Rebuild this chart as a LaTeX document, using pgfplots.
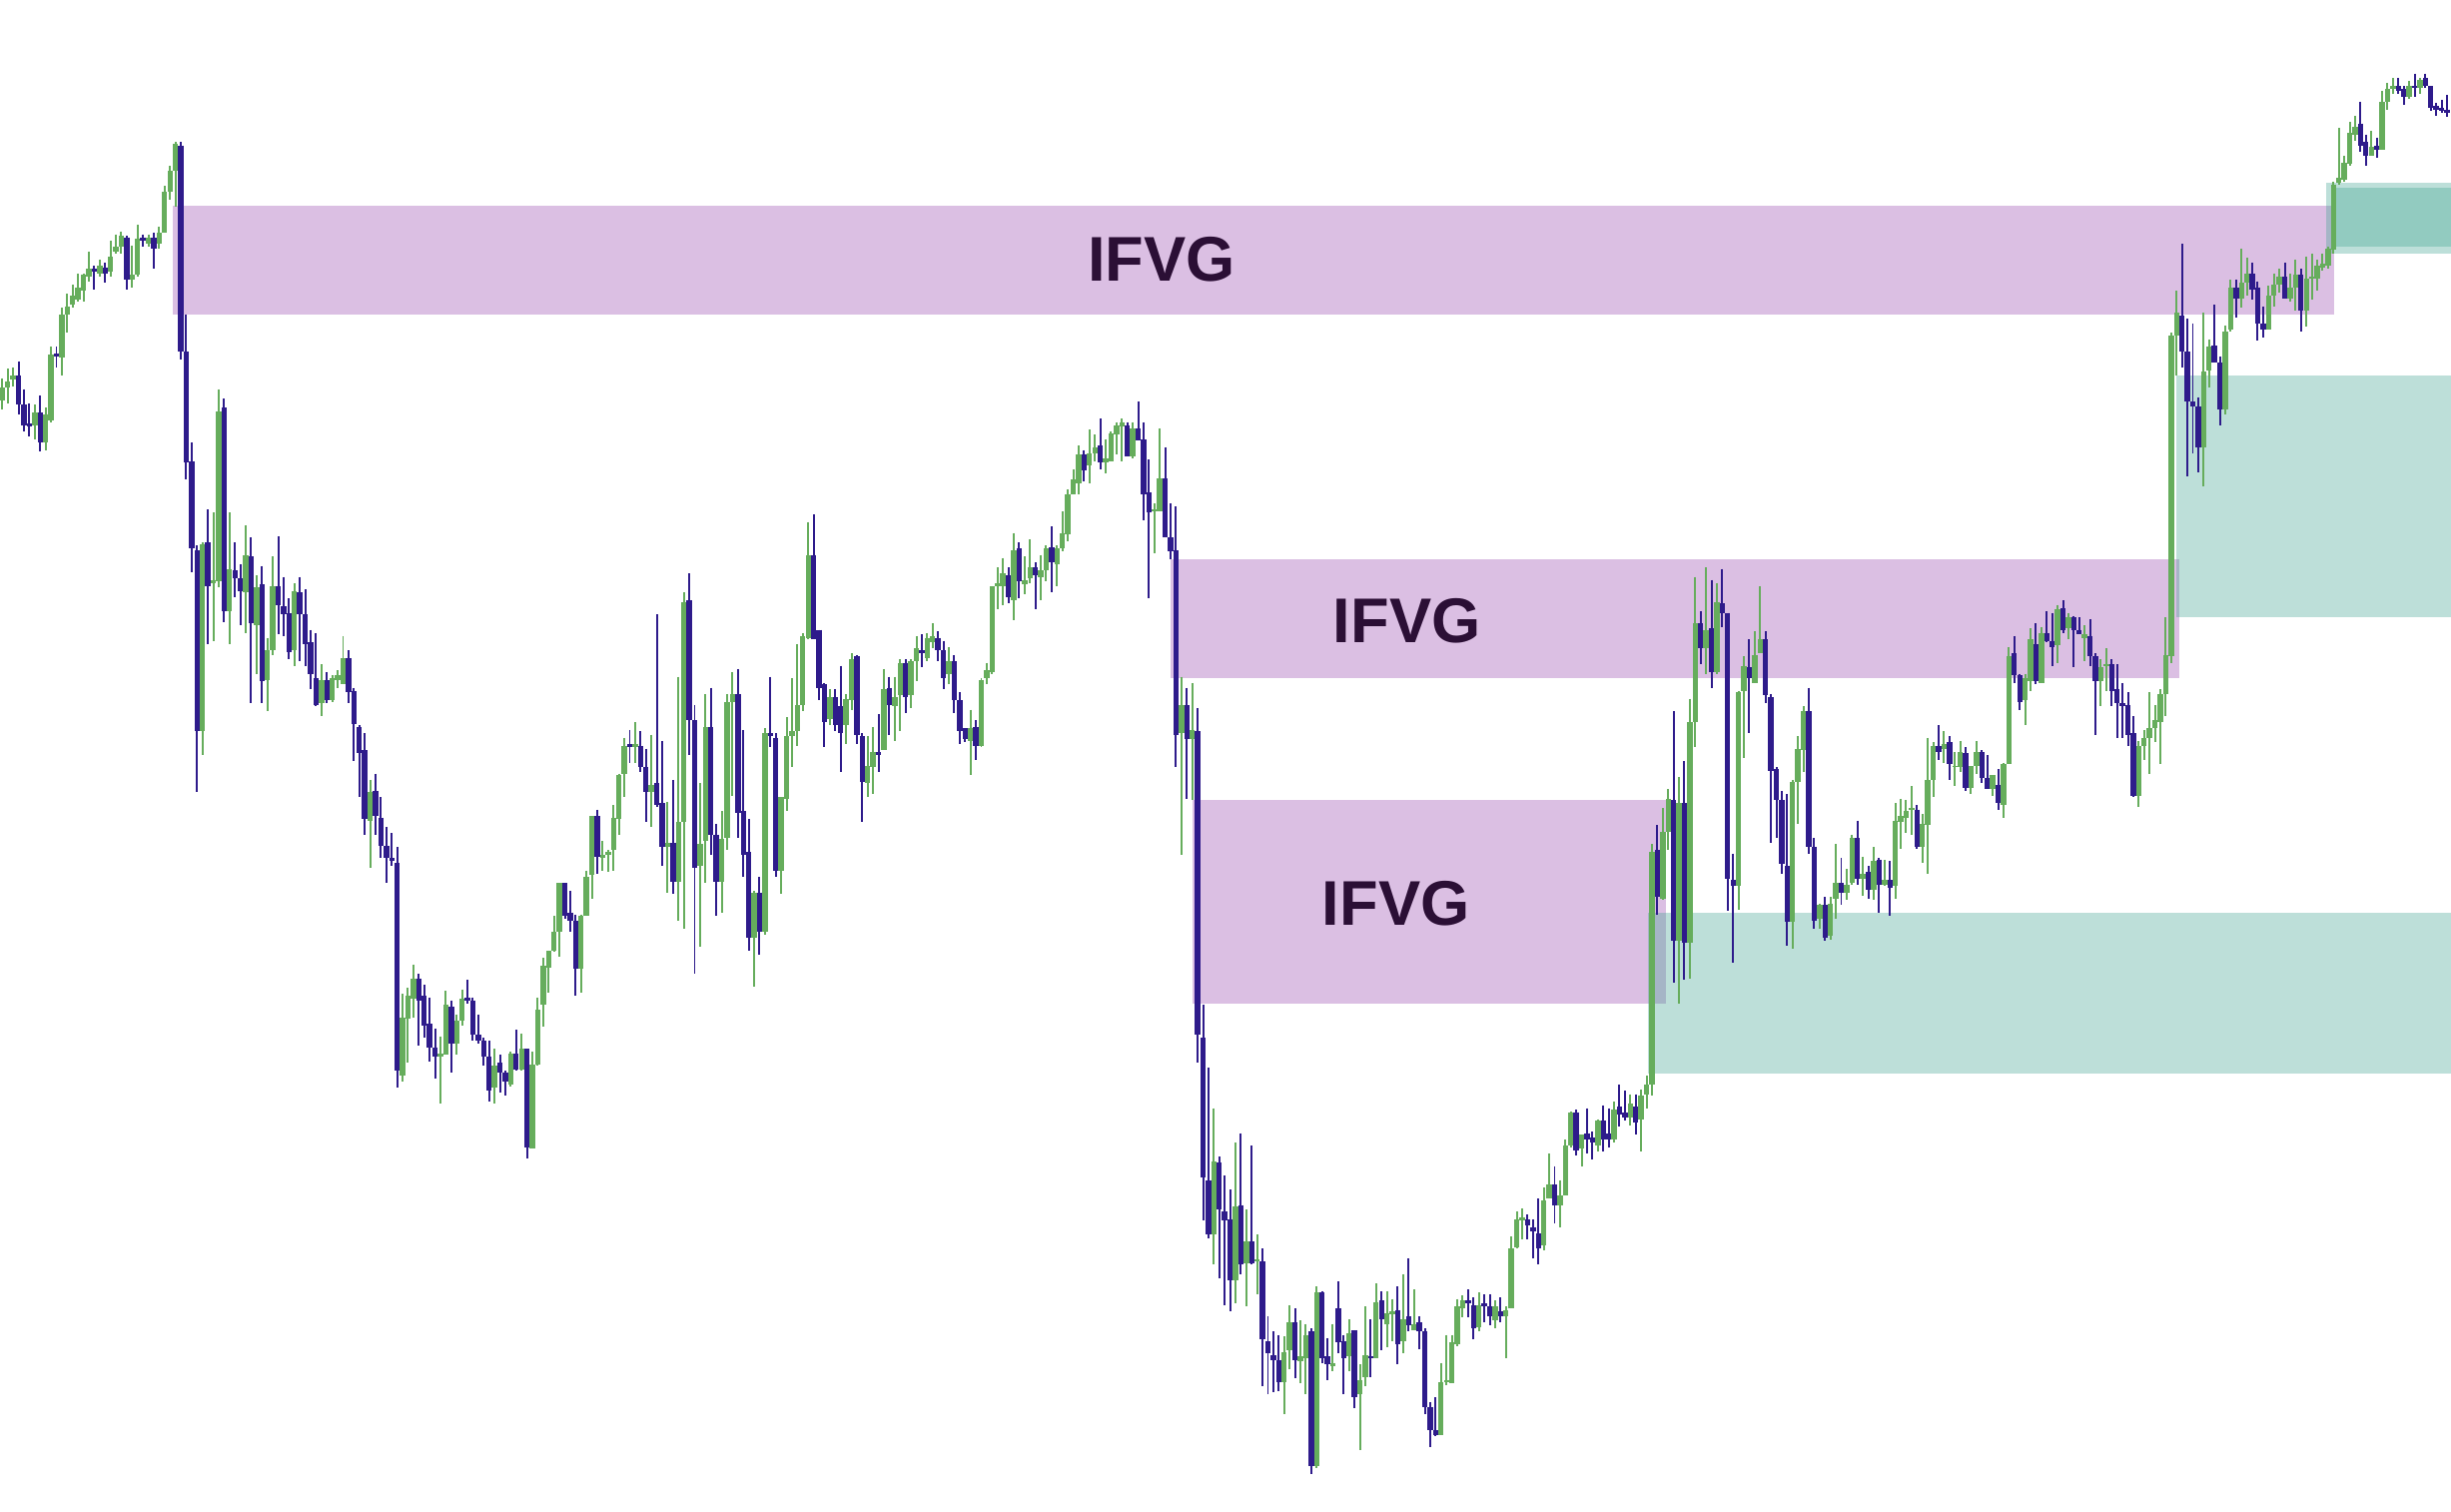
\documentclass[border=0pt]{standalone}
\usepackage{pgfplots}
\pgfplotsset{compat=1.18}
\usepackage{pgfplotstable}
\usepackage{fontspec}
\setmainfont{Liberation Sans}

\definecolor{upc}{RGB}{102,173,92}
\definecolor{dnc}{RGB}{46,27,139}
\definecolor{ifvg}{RGB}{219,191,227}
\definecolor{fvg}{RGB}{66,164,146}
\definecolor{lbl}{RGB}{43,15,53}

% candles in picture pixels (y grows downwards): open close top bottom
\pgfplotstableread{
o c t b
256 248 242 262
248 244 236 258
243 240 235 247
240 259 231 265
259 272 249 276
271 273 258 279
272 264 259 281
264 283 253 289
283 265 261 288
269 227 222 270
226 228 222 235
229 201 197 240
201 196 188 213
195 189 182 197
192 184 175 193
186 176 175 193
177 172 161 180
172 174 170 185
175 170 166 177
171 175 168 181
174 164 154 177
161 158 150 162
158 151 148 162
152 179 151 185
179 176 157 184
176 153 144 177
152 154 150 158
156 152 150 158
152 159 149 172
156 149 145 159
149 123 119 149
123 109 106 128
109 92 91 132
93 225 91 230
225 296 201 307
295 351 283 366
352 468 349 507
468 348 347 483
347 375 326 412
373 371 328 410
372 263 249 376
261 391 255 398
391 364 328 412
365 370 347 382
370 378 361 400
379 355 336 405
356 399 344 450
400 376 368 431
374 436 362 450
435 416 408 455
416 375 356 419
375 387 343 406
388 393 369 407
392 417 383 422
416 378 373 426
379 393 369 423
393 412 377 426
411 431 403 441
434 451 405 452
450 435 425 458
435 448 430 450
448 434 432 449
435 432 429 440
438 421 407 438
421 443 416 450
442 463 440 487
465 482 464 510
480 524 469 534
525 507 499 555
506 522 495 534
523 541 510 549
541 549 529 565
549 551 533 554
552 685 542 696
688 651 636 692
652 637 632 680
639 626 617 651
626 640 623 669
637 656 630 664
655 670 638 679
670 676 658 690
676 674 663 706
675 643 634 675
644 668 640 686
668 653 649 675
653 639 633 656
638 640 627 642
640 662 638 666
662 666 649 668
666 676 664 682
676 698 666 705
696 682 671 706
680 686 675 699
686 692 685 701
694 674 673 695
674 684 659 685
684 671 661 685
671 734 671 741
735 681 673 735
681 646 638 682
643 618 613 657
619 608 608 635
608 596 586 609
596 565 565 612
565 586 565 588
584 589 570 596
589 620 585 637
620 586 585 635
586 561 557 586
560 522 522 575
522 548 518 559
549 547 538 557
547 545 544 558
544 523 515 557
524 496 495 534
495 477 472 510
476 478 467 488
478 476 462 488
477 491 468 494
491 507 479 526
507 502 470 529
501 515 393 516
514 542 474 554
542 539 513 571
539 564 499 572
564 526 433 589
526 385 379 594
384 461 367 483
461 555 451 623
554 540 501 606
538 465 444 565
465 534 440 547
534 564 527 586
564 537 519 584
536 449 444 544
449 444 430 509
444 520 428 536
519 547 467 561
545 600 524 608
600 571 570 631
571 596 561 611
596 469 466 598
469 471 433 478
472 557 469 561
557 510 510 572
511 471 459 519
471 468 434 491
468 451 412 477
451 407 405 455
408 355 334 409
355 409 329 409
403 440 403 448
438 462 437 478
460 446 441 464
446 464 441 468
452 469 426 494
464 447 444 476
448 422 418 454
420 470 419 476
471 500 469 526
501 490 471 510
491 481 465 508
481 483 457 494
480 441 428 480
440 451 433 470
452 446 433 474
445 424 422 468
424 446 422 456
445 423 422 453
423 415 407 436
416 418 406 427
421 408 405 423
411 407 399 415
408 416 404 423
416 434 410 441
431 423 414 438
423 448 419 456
448 468 443 476
466 473 466 475
474 466 454 496
465 477 461 486
477 435 434 478
434 429 424 438
430 375 375 431
375 373 363 390
375 367 357 387
368 382 363 386
384 352 341 397
351 372 347 383
374 371 356 380
370 363 345 373
363 368 360 390
369 365 355 384
365 351 349 372
350 360 337 379
361 351 349 375
351 341 327 353
342 316 313 346
316 307 300 316
309 291 285 316
291 301 288 308
298 290 275 309
290 286 278 295
285 296 268 300
296 293 281 303
295 277 276 295
278 272 270 291
273 270 268 295
272 292 270 292
292 274 270 293
274 282 257 282
281 316 270 333
315 328 294 383
327 326 322 354
327 306 274 327
306 344 286 344
344 353 322 358
352 470 324 491
469 451 433 547
451 473 440 511
473 467 437 512
468 662 453 680
664 753 643 781
755 790 683 792
790 743 709 809
744 774 740 818
775 781 752 835
780 819 761 839
819 772 731 834
771 809 725 815
808 794 774 836
794 808 733 809
807 806 790 828
807 857 799 887
858 866 842 892
867 870 852 891
870 884 854 890
884 865 855 905
864 846 835 876
846 870 837 882
871 868 845 885
869 854 847 892
852 938 850 943
938 827 823 939
827 869 826 872
868 873 856 883
874 872 847 877
837 859 820 866
858 869 854 892
868 853 844 877
851 894 851 901
892 883 873 928
881 867 836 887
868 869 844 881
869 833 821 869
832 844 826 864
847 840 826 862
841 839 831 858
838 860 823 873
858 844 815 866
842 848 805 852
851 847 825 851
846 852 842 863
852 900 850 905
900 915 897 926
915 918 894 919
918 884 872 918
884 883 854 886
885 859 854 885
860 836 831 861
837 832 829 843
832 834 825 843
835 850 830 857
849 835 827 852
834 836 828 846
836 842 828 848
845 836 832 850
839 842 830 846
842 838 836 869
837 799 791 837
798 780 775 799
781 779 773 793
780 784 777 793
785 788 780 805
789 799 767 809
797 768 760 800
767 758 738 767
758 771 746 783
771 765 755 785
765 733 729 765
733 712 711 734
712 736 710 739
735 726 726 746
725 729 709 738
728 731 724 742
733 717 716 737
717 729 707 737
725 729 709 734
729 710 705 731
708 713 694 721
712 715 698 717
715 706 700 720
708 718 700 726
716 701 697 737
700 694 688 709
694 545 540 701
544 574 528 585
575 532 517 576
532 511 505 544
512 602 455 629
602 514 497 642
514 603 487 627
603 462 447 626
462 399 369 478
399 415 391 425
415 403 363 431
402 430 371 440
430 385 373 431
386 392 364 401
392 562 392 583
563 567 546 616
567 443 442 582
442 426 420 485
427 434 409 469
437 419 404 437
418 409 375 418
409 445 404 450
446 493 444 539
492 512 491 536
512 553 506 559
554 590 508 605
590 500 499 607
500 479 471 527
480 455 452 494
455 542 440 546
542 589 536 594
588 579 578 594
579 600 574 602
599 578 574 601
575 565 540 588
565 571 549 579
571 566 556 576
565 536 534 566
536 562 525 566
562 559 548 573
558 569 554 575
569 551 542 576
550 566 549 584
566 563 550 567
563 568 551 586
567 525 514 575
526 522 511 543
523 519 512 533
518 517 503 534
518 542 515 543
542 527 521 552
528 499 472 559
499 477 475 510
477 481 464 486
479 476 468 488
475 489 471 499
491 490 481 503
491 481 474 494
482 504 478 506
504 490 490 508
490 481 474 495
481 498 480 501
498 505 483 505
505 496 496 509
502 514 492 518
515 489 488 523
489 420 414 489
418 432 407 437
432 449 431 454
448 434 431 464
436 409 402 442
412 436 399 438
437 405 401 437
405 410 391 411
410 414 392 426
413 390 387 424
389 403 384 405
402 395 392 409
395 403 394 427
403 406 395 406
408 406 400 423
407 420 396 426
420 436 418 470
436 427 422 452
426 425 415 442
425 442 422 452
441 450 425 472
450 452 437 472
451 470 443 477
469 509 458 510
509 477 474 516
477 472 467 486
472 466 443 495
466 461 451 475
462 444 441 489
444 419 395 458
420 215 213 424
215 200 186 240
202 225 156 235
225 257 204 305
257 260 207 290
260 286 254 302
286 238 200 311
237 222 217 248
221 232 195 232
232 262 228 272
262 212 208 265
211 184 179 212
184 191 179 203
191 181 159 197
181 175 165 189
175 185 168 192
184 207 180 218
207 211 196 216
211 189 183 211
189 182 175 196
182 177 172 187
177 191 168 191
191 184 175 193
184 176 166 199
176 199 172 212
199 178 164 209
178 177 162 192
178 170 166 186
171 169 162 173
170 159 158 172
160 118 116 162
117 114 82 118
115 104 100 116
105 85 78 106
86 81 74 90
79 93 65 97
91 100 86 106
100 94 84 100
93 96 88 101
96 65 58 96
65 57 53 70
57 55 50 60
55 58 50 60
57 62 55 67
62 55 52 63
55 56 47 62
56 51 50 60
50 55 47 56
55 69 55 71
68 70 66 74
69 71 64 72
70 72 61 75
}\candles

\pgfplotsset{
  stick/.style 2 args={draw=none, mark=none, forget plot,
    error bars/.cd, y dir=plus, y explicit, error mark=none,
    error bar style={draw=#1, line width=#2, line cap=butt}},
}

\begin{document}
\begin{tikzpicture}
\begin{axis}[
  width=15.68cm, height=9.67cm, scale only axis,
  xmin=0, xmax=1568, ymin=0, ymax=967, y dir=reverse,
  hide axis,
]
% IFVG zones
\fill[ifvg] (axis cs:110.5,131.5) rectangle (axis cs:1493,201.3);
\fill[ifvg] (axis cs:749,358) rectangle (axis cs:1394,434);
\fill[ifvg] (axis cs:763,512) rectangle (axis cs:1066,642);
% FVG zones
\fill[fvg, opacity=0.35] (axis cs:1054,584) rectangle (axis cs:1568,687);
\fill[fvg, opacity=0.35] (axis cs:1392,240) rectangle (axis cs:1568,395);
\fill[fvg, opacity=0.35] (axis cs:1488,117) rectangle (axis cs:1568,162);
\fill[fvg, opacity=0.35] (axis cs:1492,120) rectangle (axis cs:1568,158);

% wicks (zero length where the candle has the other colour)
\addplot[stick={upc}{0.36pt}] table[x expr=1.5+\coordindex*3.46, y expr=\thisrow{t},
  y error plus expr={(\thisrow{c}<\thisrow{o})*(\thisrow{b}-\thisrow{t})}] {\candles};
\addplot[stick={dnc}{0.36pt}] table[x expr=1.5+\coordindex*3.46, y expr=\thisrow{t},
  y error plus expr={(\thisrow{c}>\thisrow{o})*(\thisrow{b}-\thisrow{t})}] {\candles};
% bodies
\addplot[stick={upc}{0.98pt}] table[x expr=1.5+\coordindex*3.46,
  y expr={min(\thisrow{o},\thisrow{c})},
  y error plus expr={(\thisrow{c}<\thisrow{o})*(\thisrow{o}-\thisrow{c})}] {\candles};
\addplot[stick={dnc}{0.98pt}] table[x expr=1.5+\coordindex*3.46,
  y expr={min(\thisrow{o},\thisrow{c})},
  y error plus expr={(\thisrow{c}>\thisrow{o})*(\thisrow{c}-\thisrow{o})}] {\candles};

\node[text=lbl, inner sep=0pt, font=\bfseries\fontsize{11.5}{12}\selectfont] at (axis cs:743,166) {IFVG};
\node[text=lbl, inner sep=0pt, font=\bfseries\fontsize{11.5}{12}\selectfont] at (axis cs:900,397) {IFVG};
\node[text=lbl, inner sep=0pt, font=\bfseries\fontsize{11.5}{12}\selectfont] at (axis cs:893,578) {IFVG};
\end{axis}
\path (current axis.south west) rectangle (current axis.north east);
\end{tikzpicture}
\end{document}
